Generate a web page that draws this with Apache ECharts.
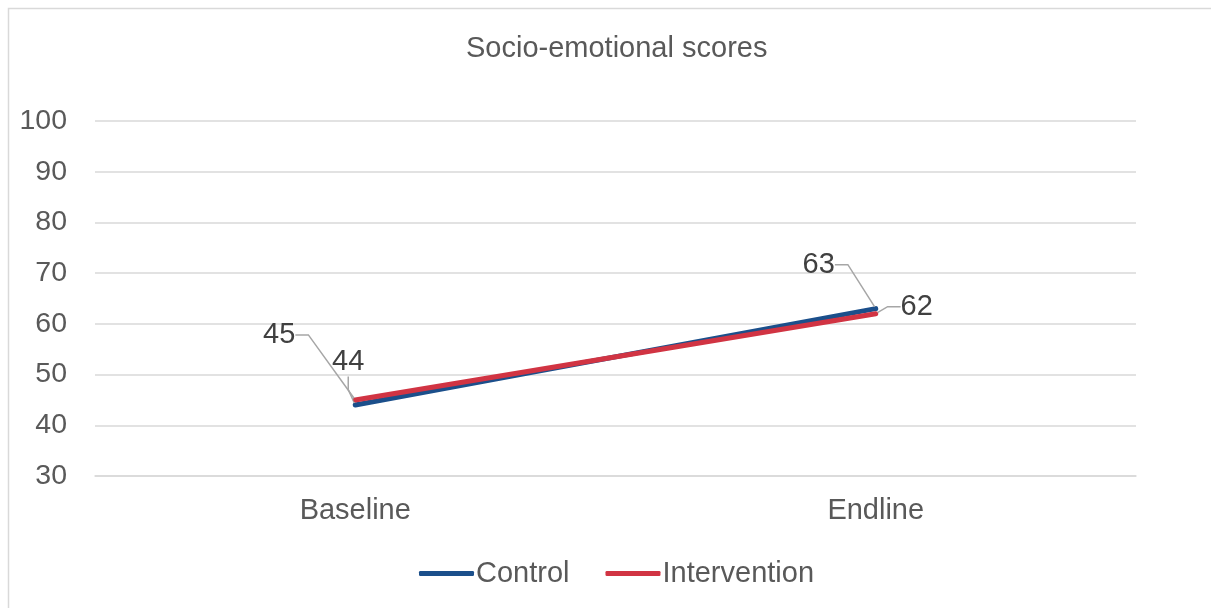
<!DOCTYPE html>
<html>
<head>
<meta charset="utf-8">
<script src="https://cdn.jsdelivr.net/npm/echarts@6/dist/echarts.min.js"></script>
<style>
  html, body { margin: 0; padding: 0; background: #fff; }
  #chart { width: 1211px; height: 608px; }
</style>
</head>
<body>
<div id="chart"></div>
<script>
// Survey rounds on the x axis
const categories = ['Baseline', 'Endline'];
// Mean socio-emotional scores per group
const controlScores = [44, 63];
const interventionScores = [45, 62];
// Value axis ticks
const yTicks = [30, 40, 50, 60, 70, 80, 90, 100];

const FONT = '"Liberation Sans", Arial, sans-serif';
const TEXT_GRAY = '#595959';
const GRID_GRAY = '#d9d9d9';
const BLUE = '#1b4f8b';
const RED = '#d13443';

// Offsets of each data label from its point, with leader lines
const labelOffsets = {
  0: [[-7, -43], [-57, -44]],
  1: [[-76, -65], [41, -7]]
};

const chart = echarts.init(document.getElementById('chart'), null, { renderer: 'canvas' });

function lineSeries(name, data, color) {
  return {
    name: name,
    type: 'line',
    data: data,
    symbol: 'circle',
    symbolSize: 4,
    itemStyle: { color: color },
    lineStyle: { color: color, width: 5, cap: 'round' },
    label: {
      show: true,
      position: 'inside',
      fontFamily: FONT,
      fontSize: 29,
      color: '#404040',
      padding: [2, 6, 2, 6],
      formatter: p => String(p.value)
    },
    labelLine: {
      show: true,
      length2: 13,
      lineStyle: { color: '#a6a6a6', width: 1.5 }
    },
    emphasis: { disabled: true }
  };
}

chart.setOption({
  animation: false,
  backgroundColor: '#fff',
  graphic: [{
    type: 'rect',
    shape: { x: 8.5, y: 8.5, width: 1240, height: 640 },
    style: { fill: 'none', stroke: GRID_GRAY, lineWidth: 1.5 },
    silent: true,
    z: -1
  }],
  title: {
    text: 'Socio-emotional scores',
    left: 461,
    top: 29,
    textStyle: { fontFamily: FONT, fontSize: 29, fontWeight: 'normal', color: TEXT_GRAY }
  },
  legend: {
    bottom: 15,
    left: 414,
    itemWidth: 55,
    itemHeight: 5,
    itemGap: 36,
    icon: 'roundRect',
    textStyle: { fontFamily: FONT, fontSize: 29, color: TEXT_GRAY, padding: [0, 0, 0, -3] },
    data: ['Control', 'Intervention']
  },
  grid: { left: 95, right: 75, top: 121, bottom: 132, containLabel: false },
  xAxis: {
    type: 'category',
    data: categories,
    boundaryGap: true,
    axisLine: { lineStyle: { color: GRID_GRAY, width: 1.5 } },
    axisTick: { show: false },
    axisLabel: { fontFamily: FONT, fontSize: 29, color: TEXT_GRAY, margin: 20 }
  },
  yAxis: {
    type: 'value',
    min: yTicks[0],
    max: yTicks[yTicks.length - 1],
    interval: 10,
    axisLine: { show: false },
    axisTick: { show: false },
    splitLine: { lineStyle: { color: GRID_GRAY, width: 1.5 } },
    axisLabel: { fontFamily: FONT, fontSize: 28.5, color: TEXT_GRAY, margin: 28 }
  },
  labelLayout: function (params) {
    const off = labelOffsets[params.seriesIndex][params.dataIndex];
    return { dx: off[0], dy: off[1] };
  },
  series: [
    lineSeries('Control', controlScores, BLUE),
    lineSeries('Intervention', interventionScores, RED)
  ]
});
</script>
</body>
</html>
